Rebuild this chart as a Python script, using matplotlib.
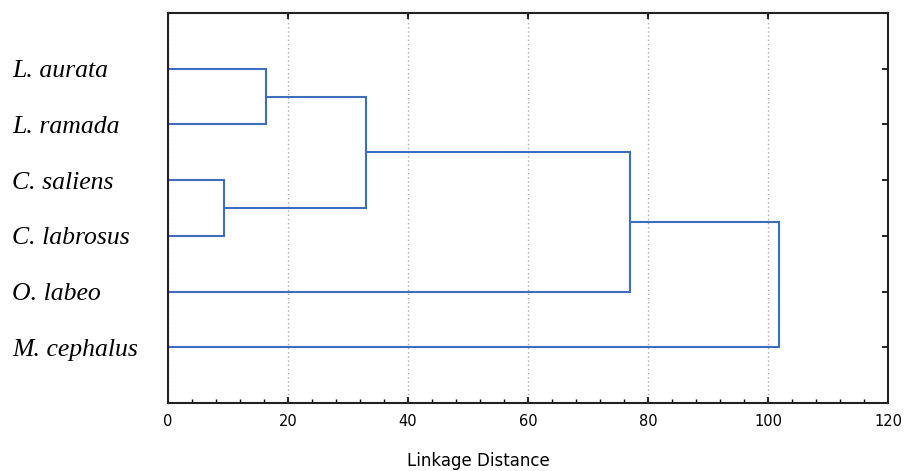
import matplotlib.pyplot as plt
from matplotlib.ticker import MultipleLocator

species = ["L. aurata", "L. ramada", "C. saliens", "C. labrosus", "O. labeo", "M. cephalus"]
# linkage rows: (cluster a, cluster b, distance); new clusters numbered from 6 on
merges = [(0, 1, 16.3), (2, 3, 9.3), (6, 7, 33.0), (8, 4, 77.0), (9, 5, 101.8)]

LINE = "#3D6DBE"

fig = plt.figure(figsize=(9.06, 4.71), dpi=100)
ax = fig.add_axes([168 / 906, 68 / 471, 720 / 906, 390 / 471])

# leaf rows from top to bottom, clusters keep (y, height)
pos = {i: (i + 1, 0.0) for i in range(len(species))}
for k, (a, b, d) in enumerate(merges):
    ya, ha = pos[a]
    yb, hb = pos[b]
    ax.plot([ha, d, d, hb], [ya, ya, yb, yb], color=LINE, lw=1.5, solid_joinstyle="miter")
    pos[len(species) + k] = ((ya + yb) / 2, d)

ax.set_xlim(0, 120)
ax.set_ylim(7, 0)
ax.xaxis.set_major_locator(MultipleLocator(20))
ax.xaxis.set_minor_locator(MultipleLocator(4))
ax.grid(axis="x", which="major", color="#aaaaaa", linestyle=(0, (1, 2)), lw=1)
ax.set_axisbelow(True)

ax.set_yticks(range(1, len(species) + 1))
ax.set_yticklabels(species, fontfamily="Liberation Serif", fontstyle="italic", fontsize=18.5)
for lab in ax.get_yticklabels():
    lab.set_horizontalalignment("left")
ax.tick_params(axis="y", which="major", direction="in", length=4, width=1.2,
               left=True, right=True, pad=112)
ax.tick_params(axis="x", which="major", direction="in", length=4, width=1.2,
               top=True, bottom=True, pad=8, labelsize=10.5)
ax.tick_params(axis="x", which="minor", direction="in", length=3, width=1,
               top=False, bottom=True)
for sp in ax.spines.values():
    sp.set_linewidth(1.5)
    sp.set_color("#222222")

fig.text(478 / 906, 1 - 461 / 471, "Linkage Distance", ha="center", va="center", fontsize=12)

fig.savefig("out.png", dpi=100)
